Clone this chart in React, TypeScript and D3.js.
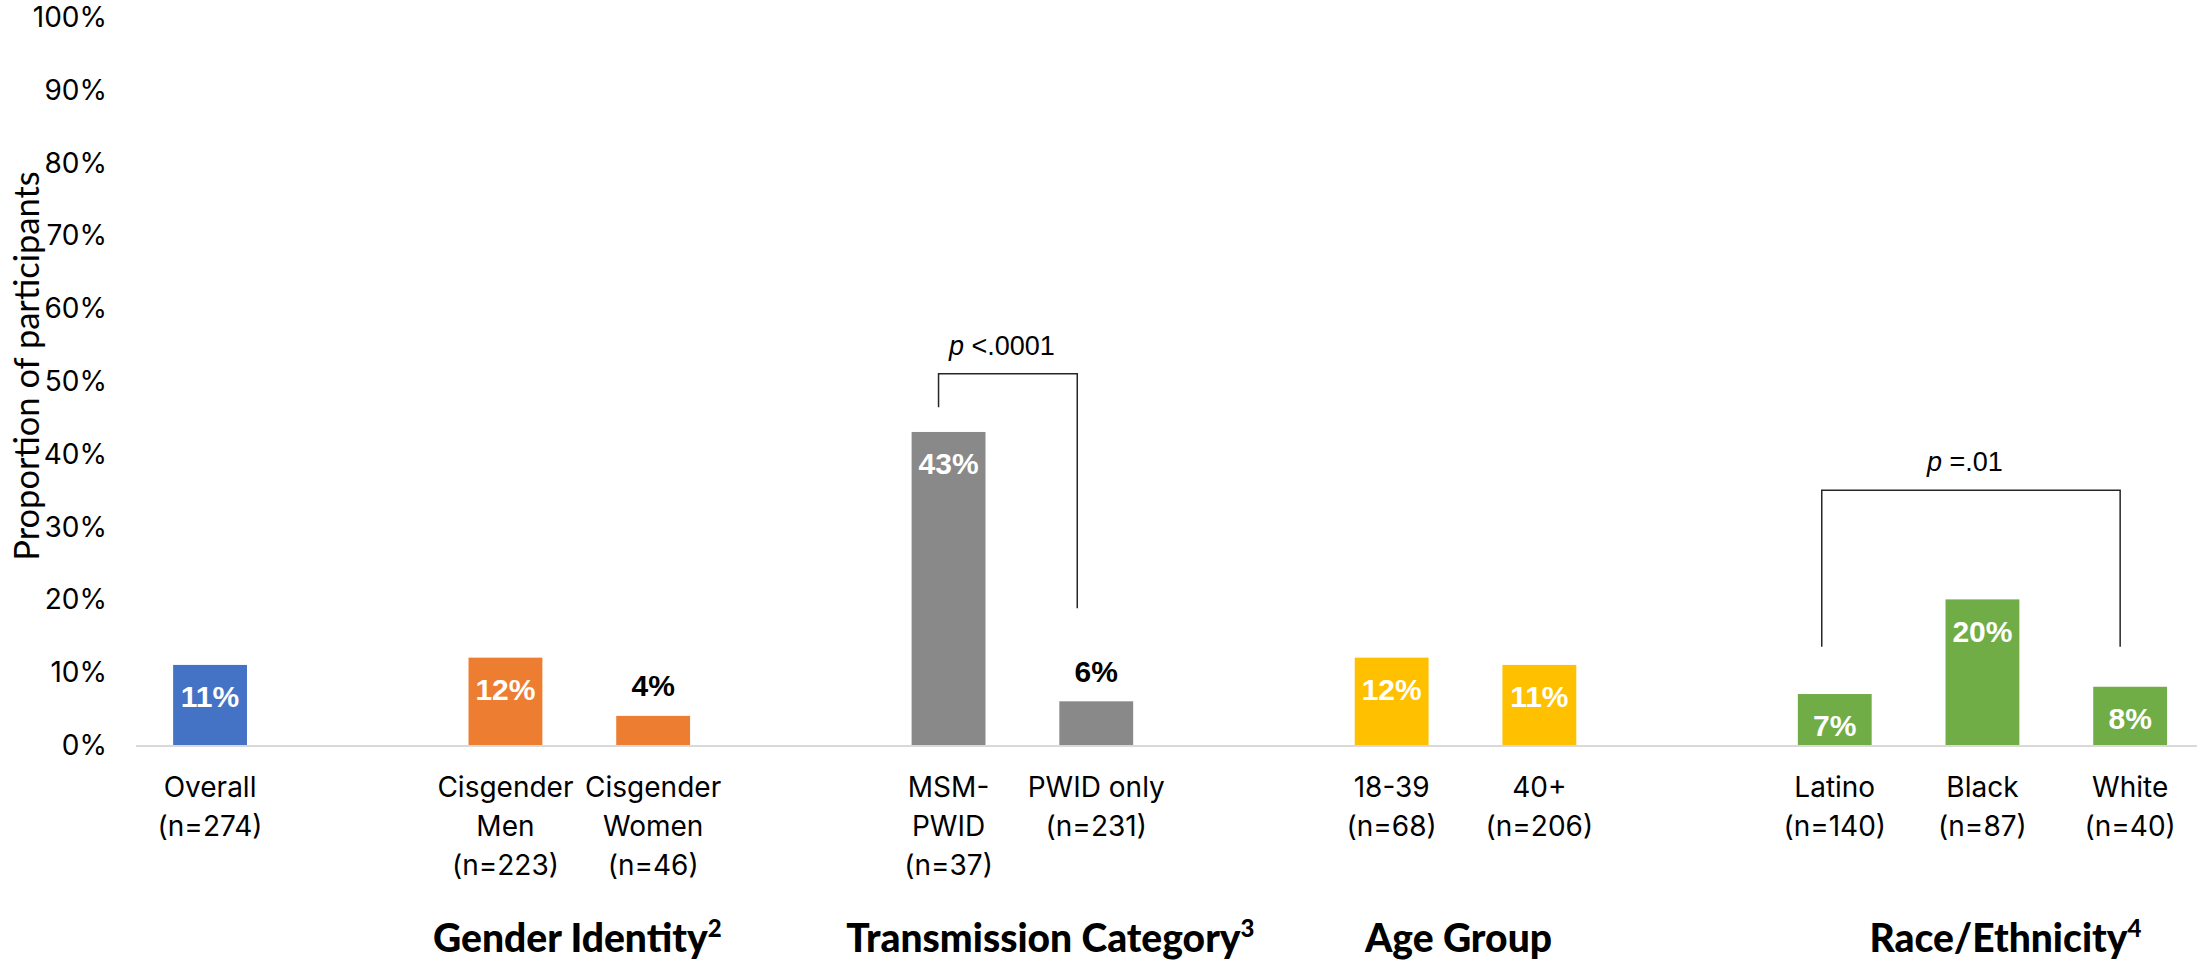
import React from "react";
import * as d3 from "d3";

// ---------- data ----------
const categories = [
  "Overall", "_g1", "Cisgender Men", "Cisgender Women", "_g2",
  "MSM-PWID", "PWID only", "_g3", "18-39", "40+", "_g4",
  "Latino", "Black", "White",
];
const barCategories = [
  "Overall", "Cisgender Men", "Cisgender Women", "MSM-PWID", "PWID only",
  "18-39", "40+", "Latino", "Black", "White",
];
const barValues = [0.11, 0.12, 0.04, 0.43, 0.06, 0.12, 0.11, 0.07, 0.2, 0.08];
const barGroups = ["overall", "gender", "gender", "trans", "trans", "age", "age", "race", "race", "race"];
const labelLines = [
  ["Overall", "(n=274)"],
  ["Cisgender", "Men", "(n=223)"],
  ["Cisgender", "Women", "(n=46)"],
  ["MSM-", "PWID", "(n=37)"],
  ["PWID only", "(n=231)"],
  ["18-39", "(n=68)"],
  ["40+", "(n=206)"],
  ["Latino", "(n=140)"],
  ["Black", "(n=87)"],
  ["White", "(n=40)"],
];
const yTicks = [0, 0.1, 0.2, 0.3, 0.4, 0.5, 0.6, 0.7, 0.8, 0.9, 1.0];
const groupTitles = ["Gender Identity", "Transmission Category", "Age Group", "Race/Ethnicity"];
const groupSups = ["2", "3", "", "4"];
const groupFirst = ["Cisgender Men", "MSM-PWID", "18-39", "Latino"];
const groupLast = ["Cisgender Women", "PWID only", "40+", "White"];
const pTexts = ["<.0001", "=.01"];
const pFrom = ["MSM-PWID", "Latino"];
const pTo = ["PWID only", "White"];
const pTop = [0.51, 0.35];
const pLeftBottom = [0.464, 0.135];
const pRightBottom = [0.188, 0.135];

// ---------- styling / layout ----------
const W = 2197;
const H = 961;
const colors: Record<string, string> = {
  overall: "#4472C4",
  gender: "#ED7D31",
  trans: "#898989",
  age: "#FFC000",
  race: "#70AD47",
};
const titleOffsets = [-2, 28, -7, 23];
const bracketLeftOffsets = [-10, -13];
const bracketRightOffsets = [-19, -10];

const catFont = "Inter, 'Open Sans', sans-serif";
const calFont = "Lato, 'Open Sans', sans-serif";
const arialFont = "'Liberation Sans', Arial, sans-serif";

export default function App() {
  const x = d3
    .scaleBand<string>()
    .domain(categories)
    .range([136.2, 2204])
    .paddingInner(0.5)
    .paddingOuter(0.25);
  const y = d3.scaleLinear().domain([0, 1]).range([745, 17]);
  const fmt = d3.format(".0%");
  const cx = (c: string) => (x(c) as number) + x.bandwidth() / 2;
  const y0 = y(0);

  return (
    <svg
      width={W}
      height={H}
      style={{ position: "absolute", left: 0, top: 0, background: "#fff" }}
    >
      <rect x={0} y={0} width={W} height={H} fill="#fff" />
      {/* y tick labels */}
      {yTicks.map((t) => (
        <text
          key={t}
          x={107}
          y={y(t) + 10}
          textAnchor="end"
          fontFamily={catFont}
          fontSize={28}
          fill="#000"
        >
          {fmt(t)}
        </text>
      ))}
      {/* y axis title */}
      <text
        transform={`translate(39, ${366}) rotate(-90)`}
        textAnchor="middle"
        fontFamily={calFont}
        fontSize={34.5}
        fill="#000"
      >
        Proportion of participants
      </text>

      {/* bars */}
      {barCategories.map((c, i) => (
        <rect
          key={c}
          x={x(c)}
          y={y(barValues[i])}
          width={x.bandwidth()}
          height={y0 - y(barValues[i])}
          fill={colors[barGroups[i]]}
        />
      ))}

      {/* baseline */}
      <line x1={136} x2={W} y1={y0 + 1} y2={y0 + 1} stroke="#D9D9D9" strokeWidth={2} />

      {/* data labels */}
      {barCategories.map((c, i) => {
        const top = y(barValues[i]);
        const h = y0 - top;
        const inside = h >= 48;
        const center = inside ? Math.min(top + 32, y0 - 20) : top - 30;
        return (
          <text
            key={c}
            x={cx(c)}
            y={center + 10.5}
            textAnchor="middle"
            fontFamily={arialFont}
            fontWeight="bold"
            fontSize={30}
            fill={inside ? "#fff" : "#000"}
          >
            {fmt(barValues[i])}
          </text>
        );
      })}

      {/* category labels */}
      {barCategories.map((c, i) => (
        <text
          key={c}
          textAnchor="middle"
          fontFamily={catFont}
          fontSize={28}
          fill="#000"
        >
          {labelLines[i].map((l, j) => (
            <tspan key={j} x={cx(c)} y={797 + j * 39}>
              {l}
            </tspan>
          ))}
        </text>
      ))}

      {/* group titles */}
      {groupTitles.map((t, i) => {
        const mid = (cx(groupFirst[i]) + cx(groupLast[i])) / 2 + titleOffsets[i];
        return (
          <text
            key={t}
            x={mid}
            y={952}
            textAnchor="middle"
            fontFamily={calFont}
            fontWeight={900}
            fontSize={39}
            fill="#000"
          >
            {t}
            {groupSups[i] && (
              <tspan dy={-15} fontSize={24}>
                {groupSups[i]}
              </tspan>
            )}
          </text>
        );
      })}

      {/* significance brackets */}
      {pTexts.map((p, i) => {
        const xl = cx(pFrom[i]) + bracketLeftOffsets[i];
        const xr = cx(pTo[i]) + bracketRightOffsets[i];
        const yt = y(pTop[i]);
        const path = d3.path();
        path.moveTo(xl, y(pLeftBottom[i]));
        path.lineTo(xl, yt);
        path.lineTo(xr, yt);
        path.lineTo(xr, y(pRightBottom[i]));
        return (
          <g key={p}>
            <path d={path.toString()} fill="none" stroke="#262626" strokeWidth={1.5} />
            <text
              x={(xl + xr) / 2 - 6}
              y={yt - 19}
              textAnchor="middle"
              fontFamily={arialFont}
              fontSize={27}
              fill="#000"
            >
              <tspan fontStyle="italic">p</tspan>
              {" " + p}
            </text>
          </g>
        );
      })}
    </svg>
  );
}
